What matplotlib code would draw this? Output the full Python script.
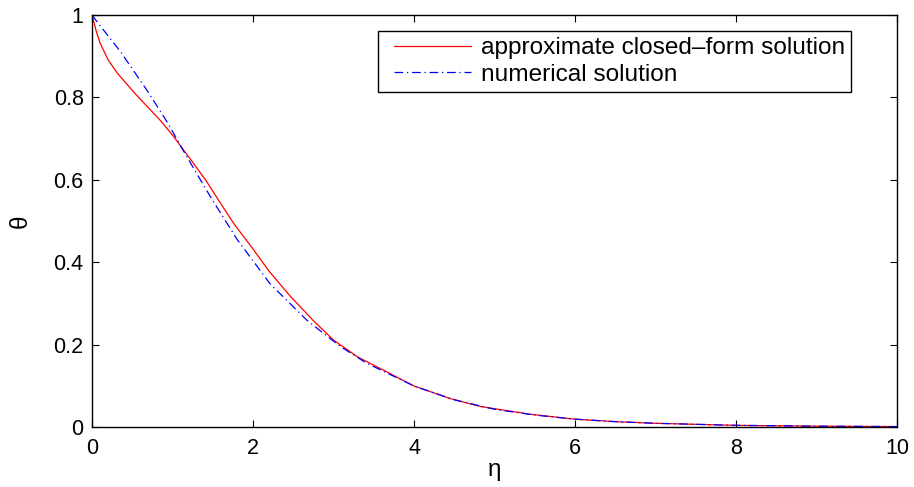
import numpy as np
import matplotlib.pyplot as plt
from matplotlib.legend_handler import HandlerLine2D

plt.rcParams['font.family'] = ['Liberation Sans', 'DejaVu Sans']

# approximate closed-form solution (red)
eta_approx = [0, 0.05, 0.1, 0.2, 0.31, 0.42, 0.55, 0.68, 0.84, 1.01, 1.13,
              1.26, 1.42, 1.57, 1.76, 2.0, 2.2, 2.46, 2.75, 3.0, 3.3, 3.62,
              4.0, 4.45, 4.82, 5.44, 6.0, 6.5, 7.0, 8.0, 9.0, 10.0]
theta_approx = [1.0, 0.962, 0.932, 0.891, 0.86, 0.835, 0.806, 0.779, 0.746,
                0.706, 0.674, 0.64, 0.597, 0.551, 0.494, 0.432, 0.378, 0.318,
                0.258, 0.211, 0.17, 0.138, 0.0995, 0.069, 0.05, 0.031, 0.019,
                0.013, 0.009, 0.004, 0.002, 0.001]

# numerical solution (blue)
eta_num = [0, 0.08, 0.35, 0.68, 0.95, 1.13, 1.34, 1.47, 1.80, 2.21, 2.67,
           3.08, 3.41, 4.0, 4.5, 5.0, 5.5, 6.0, 6.5, 7.0, 8.0, 9.0, 10.0]
theta_num = [1.0, 0.979, 0.912, 0.818, 0.735, 0.672, 0.602, 0.559, 0.456,
             0.348, 0.259, 0.196, 0.155, 0.0995, 0.066, 0.043, 0.029, 0.019,
             0.013, 0.009, 0.004, 0.002, 0.001]

fig = plt.figure(figsize=(9.14, 4.87), dpi=100)
ax = fig.add_axes([0.1007, 0.1232, 0.8807, 0.846])

ax.plot(eta_approx, theta_approx, color='red', lw=0.9,
        label='approximate closed\u2013form solution')
ax.plot(eta_num, theta_num, color='blue', lw=0.9, dashes=[7, 3, 1, 3],
        label='numerical solution')

ax.set_xlim(0, 10)
ax.set_ylim(0, 1)
ax.set_xticks([0, 2, 4, 6, 8, 10])
ax.set_yticks([0, 0.2, 0.4, 0.6, 0.8, 1])
ax.set_yticklabels(['0', '0.2', '0.4', '0.6', '0.8', '1'])
ax.tick_params(direction='in', length=5, width=0.8, top=True, right=True,
               labelsize=15.5)
ax.tick_params(axis='x', pad=8)
ax.tick_params(axis='y', pad=6)
for s in ax.spines.values():
    s.set_linewidth(1.0)

ax.set_xlabel('\u03b7', fontsize=17.5, labelpad=0)
ax.set_ylabel('\u03b8', fontsize=17.5, labelpad=16)

leg = ax.legend(loc='upper right', bbox_to_anchor=(0.943, 0.961),
                borderaxespad=0, fontsize=17.6, fancybox=False,
                edgecolor='black', framealpha=1, borderpad=0.25,
                labelspacing=0.18, handlelength=3.95, handletextpad=0.0,
                numpoints=2,
                handler_map={plt.Line2D: HandlerLine2D(marker_pad=0.4)})
leg.get_frame().set_linewidth(1.0)

fig.savefig('out.png', dpi=100)
